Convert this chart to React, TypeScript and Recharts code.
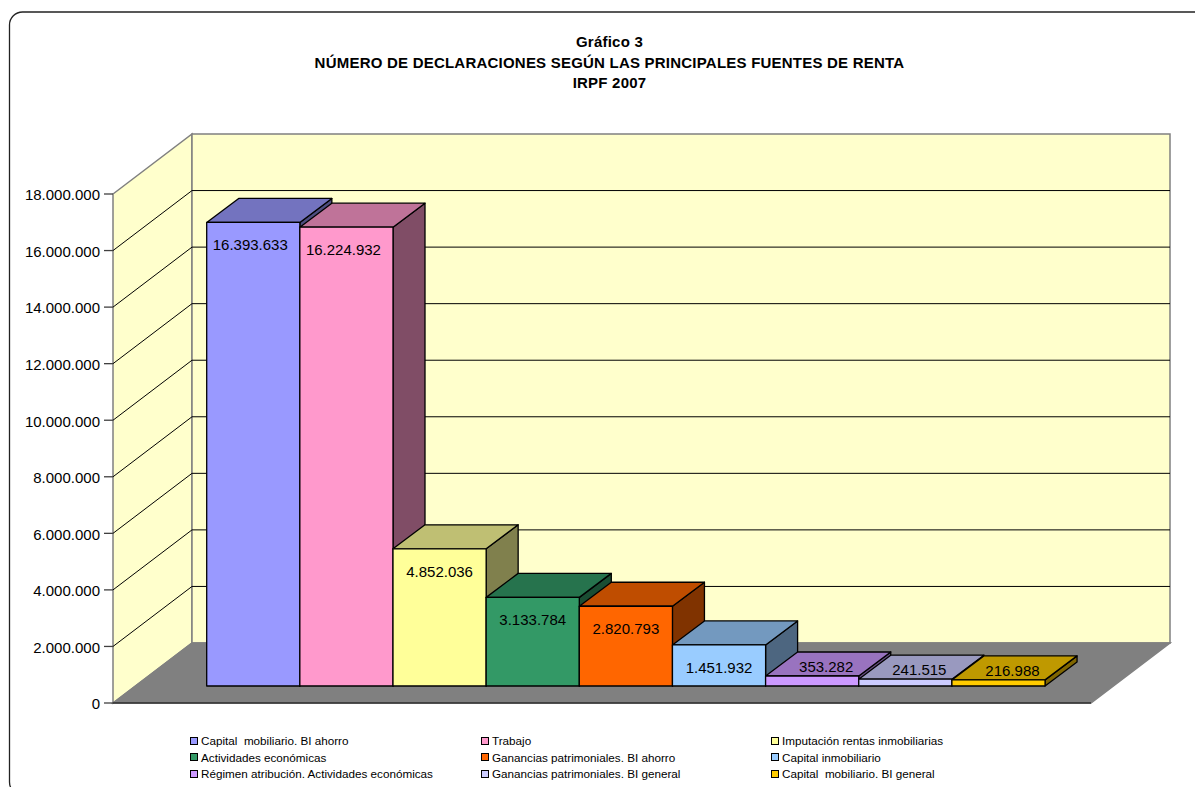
import { BarChart, Bar, XAxis, YAxis, Legend, usePlotArea } from 'recharts'

const categories = ['IRPF 2007']
const seriesNames = [
  'Capital  mobiliario. BI ahorro',
  'Trabajo',
  'Imputación rentas inmobiliarias',
  'Actividades económicas',
  'Ganancias patrimoniales. BI ahorro',
  'Capital inmobiliario',
  'Régimen atribución. Actividades económicas',
  'Ganancias patrimoniales. BI general',
  'Capital  mobiliario. BI general',
]
const seriesValues = [16393633, 16224932, 4852036, 3133784, 2820793, 1451932, 353282, 241515, 216988]
const seriesColors = ['#9999ff', '#ff99cc', '#ffff99', '#339966', '#ff6600', '#99ccff', '#cc99ff', '#ccccff', '#ffcc00']
const yTicks = [0, 2000000, 4000000, 6000000, 8000000, 10000000, 12000000, 14000000, 16000000, 18000000]
const titleLines = ['Gráfico 3', 'NÚMERO DE DECLARACIONES SEGÚN LAS PRINCIPALES FUENTES DE RENTA', 'IRPF 2007']

const chartData = categories.map((name) => {
  const row: Record<string, string | number> = { name }
  seriesNames.forEach((s, i) => {
    row[s] = seriesValues[i]
  })
  return row
})

const FONT = '"Liberation Sans", Arial, sans-serif'
const Y_MAX = 18000000
// depth of the fake 3d box
const WALL_DX = 79
const WALL_DY = 60
const BAR_DX = 32
const BAR_DY = 24
const BAR_LIFT = 17

const formatEs = (v: number) => String(v).replace(/\B(?=(\d{3})+(?!\d))/g, '.')

// 75% of the colour for the top face, 50% for the side face
const shade = (hex: string, f: number) => {
  const n = parseInt(hex.slice(1), 16)
  const c = [(n >> 16) & 255, (n >> 8) & 255, n & 255].map((v) => Math.round(v * f))
  return `rgb(${c[0]},${c[1]},${c[2]})`
}

function Backdrop() {
  const plot = usePlotArea()
  if (!plot) return null
  const left = plot.x
  const right = plot.x + plot.width
  const top = plot.y
  const bottom = plot.y + plot.height
  const yOf = (t: number) => bottom - (t / Y_MAX) * plot.height
  const backL = left + WALL_DX
  const backR = right + WALL_DX
  const backT = top - WALL_DY
  const backB = bottom - WALL_DY

  return (
    <g>
      <rect x={9.5} y={12} width={1300} height={783} rx={13} fill="#fff" stroke="#222" strokeWidth={1.3} />
      {titleLines.map((line, i) => (
        <text
          key={line}
          x={609.5}
          y={47 + i * 20.5}
          textAnchor="middle"
          fontFamily={FONT}
          fontWeight="bold"
          fontSize={15}
          letterSpacing={0.22}
          fill="#000"
        >
          {line}
        </text>
      ))}
      <polygon
        points={`${left},${top} ${backL},${backT} ${backL},${backB} ${left},${bottom}`}
        fill="#ffffcc"
        stroke="#808080"
        strokeWidth={1.5}
      />
      <rect x={backL} y={backT} width={plot.width} height={plot.height} fill="#ffffcc" stroke="#808080" strokeWidth={1.5} />
      {yTicks
        .filter((t) => t > 0 && t < Y_MAX)
        .map((t) => (
          <polyline
            key={t}
            points={`${left},${yOf(t)} ${backL},${yOf(t) - WALL_DY} ${backR},${yOf(t) - WALL_DY}`}
            fill="none"
            stroke="#000"
            strokeWidth={1}
          />
        ))}
      <polygon
        points={`${left},${bottom} ${backL},${backB} ${backR},${backB} ${right},${bottom}`}
        fill="#808080"
        stroke="#808080"
        strokeWidth={1.5}
      />
      <line x1={left} y1={bottom} x2={right} y2={bottom} stroke="#000" strokeWidth={1} />
    </g>
  )
}

function Box3D(props: any) {
  const { x, y, width, height, fill, value } = props
  const x0 = x
  const x1 = x + width
  const top = y - BAR_LIFT
  const base = top + height
  const small = height < 40
  const tall = height > 400
  return (
    <g stroke="#000" strokeWidth={1.3} strokeLinejoin="round">
      <polygon
        points={`${x1},${top} ${x1 + BAR_DX},${top - BAR_DY} ${x1 + BAR_DX},${base - BAR_DY} ${x1},${base}`}
        fill={shade(fill, 0.5)}
      />
      <polygon
        points={`${x0},${top} ${x0 + BAR_DX},${top - BAR_DY} ${x1 + BAR_DX},${top - BAR_DY} ${x1},${top}`}
        fill={shade(fill, 0.75)}
      />
      <rect x={x0} y={top} width={width} height={height} fill={fill} />
      <text
        x={x0 + width / 2 + (small ? 14 : tall ? -3 : 0)}
        y={small ? top - 4 : top + 28}
        textAnchor="middle"
        fontFamily={FONT}
        fontSize={15}
        fill="#000"
        stroke="none"
      >
        {formatEs(value)}
      </text>
    </g>
  )
}

function LegendBlock({ payload }: any) {
  return (
    <div
      style={{
        display: 'grid',
        gridTemplateColumns: '291px 290px 300px',
        gridAutoRows: '16.6px',
        fontFamily: FONT,
        fontSize: 11.7,
        color: '#000',
        whiteSpace: 'pre',
      }}
    >
      {(payload || []).map((item: any) => (
        <div key={item.value} style={{ display: 'flex', alignItems: 'center' }}>
          <span style={{ width: 6, height: 6, border: '1px solid #000', background: item.color, marginRight: 3 }} />
          {item.value}
        </div>
      ))}
    </div>
  )
}

export default function App() {
  return (
    <div style={{ position: 'absolute', left: 0, top: 0, width: 1195, height: 787, overflow: 'hidden', background: '#fff' }}>
      <BarChart
        width={1195}
        height={787}
        data={chartData}
        margin={{ top: 194, right: 104, bottom: 84, left: 0 }}
        barCategoryGap={0}
        barGap={0}
        barSize={93.15}
      >
        <Backdrop />
        <XAxis dataKey="name" hide padding={{ left: 93.7, right: 45.9 }} />
        <YAxis
          width={113}
          domain={[0, Y_MAX]}
          ticks={yTicks}
          interval={0}
          tickFormatter={formatEs}
          axisLine={false}
          tickSize={9}
          tickMargin={4}
          tickLine={{ stroke: '#404040', strokeWidth: 1.3 }}
          tick={{ fill: '#000', fontSize: 15, fontFamily: FONT, dy: 1 }}
        />
        {seriesNames.map((s, i) => (
          <Bar key={s} dataKey={s} name={s} fill={seriesColors[i]} shape={<Box3D />} isAnimationActive={false} />
        ))}
        <Legend
          verticalAlign="middle"
          align="center"
          itemSorter={null}
          wrapperStyle={{ left: 190, top: 732.5, width: 900 }}
          content={<LegendBlock />}
        />
      </BarChart>
    </div>
  )
}
